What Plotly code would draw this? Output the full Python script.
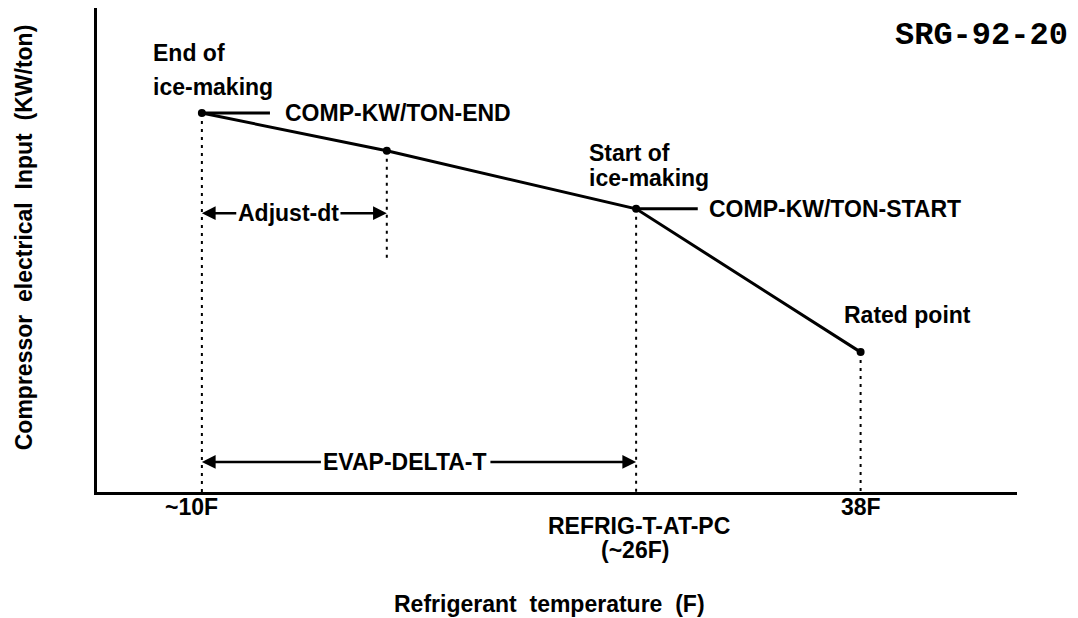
import plotly.graph_objects as go

# Schematic operating curve: compressor kW/ton vs refrigerant temperature.
# Axes are in schematic units (0-100 along each axis).
point_names = ["End of ice-making", "Adjust-dt", "Start of ice-making", "Rated point"]
point_x = [11.4, 31.5, 58.6, 83.0]
point_y = [78.3, 70.5, 58.5, 28.9]

# bottom ends of the dotted drop lines for each point
drop_bottom = [0.0, 47.5, 0.0, 0.0]

# temperature labels under the axis
temp_labels = ["~10F", "REFRIG-T-AT-PC", "(~26F)", "38F"]
temp_label_x = [10.3, 58.9, 58.5, 83.0]
temp_label_y = [-3.1, -7.0, -12.0, -3.1]

X_RANGE = [0, 100]
Y_RANGE = [0, 100]

FONT = "Liberation Sans"
SIZE = 23

fig = go.Figure()

# dotted drop lines
for x, y, yb in zip(point_x, point_y, drop_bottom):
    fig.add_trace(go.Scatter(
        x=[x, x], y=[y, yb], mode="lines",
        line=dict(color="black", width=2, dash="3px,5px"),
        hoverinfo="skip", showlegend=False))

# leader lines to the COMP-KW/TON labels
fig.add_trace(go.Scatter(x=[point_x[0], 18.8], y=[point_y[0], point_y[0]], mode="lines",
                         line=dict(color="black", width=3), showlegend=False))
fig.add_trace(go.Scatter(x=[point_x[2], 65.3], y=[point_y[2], point_y[2]], mode="lines",
                         line=dict(color="black", width=3), showlegend=False))

# main curve
fig.add_trace(go.Scatter(
    x=point_x, y=point_y, mode="lines+markers", text=point_names,
    line=dict(color="black", width=3),
    marker=dict(color="black", size=8),
    showlegend=False))


def to_paper(v, rng):
    return (v - rng[0]) / (rng[1] - rng[0])


def label(text, x, y, xanchor="left", size=SIZE, family=FONT, angle=0):
    # labels are placed in axis units; converted to paper fractions so
    # that those lying outside the plotting area are still shown
    fig.add_annotation(x=to_paper(x, X_RANGE), y=to_paper(y, Y_RANGE),
                       xref="paper", yref="paper", text=f"<b>{text}</b>",
                       showarrow=False, xanchor=xanchor, yanchor="middle",
                       textangle=angle,
                       font=dict(family=family, size=size, color="black"))


def arrow(x_from, x_to, y):
    fig.add_annotation(x=x_to, y=y, ax=x_from, ay=y, xref="x", yref="y",
                       axref="x", ayref="y", text="", showarrow=True,
                       arrowhead=2, arrowsize=1.1, arrowwidth=2.5,
                       arrowcolor="black")


label("End of", 5.9, 90.7)
label("ice-making", 5.9, 83.7)
label("COMP-KW/TON-END", 20.2, point_y[0])
label("Start of", 53.3, 70.0)
label("ice-making", 53.3, 64.9)
label("COMP-KW/TON-START", 66.3, point_y[2])
label("Rated point", 81.0, 36.6)
label("SRG-92-20", 86.5, 94.4, family="Liberation Mono", size=32)

# Adjust-dt span
label("Adjust-dt", 20.8, 57.6, xanchor="center")
arrow(15.3, point_x[0], 57.6)
arrow(26.3, point_x[1], 57.6)

# EVAP-DELTA-T span
label("EVAP-DELTA-T", 33.5, 6.2, xanchor="center")
arrow(24.5, point_x[0], 6.2)
arrow(42.6, point_x[2], 6.2)

for t, x, y in zip(temp_labels, temp_label_x, temp_label_y):
    label(t, x, y, xanchor="center")

label("Refrigerant  temperature  (F)", 49.2, -23.1, xanchor="center")
label("Compressor  electrical  Input  (KW/ton)", -7.9, 52.7, xanchor="center", angle=-90)

fig.update_xaxes(range=X_RANGE, showgrid=False, zeroline=False, showticklabels=False,
                 ticks="", showline=True, linecolor="black", linewidth=3)
fig.update_yaxes(range=Y_RANGE, showgrid=False, zeroline=False, showticklabels=False,
                 ticks="", showline=True, linecolor="black", linewidth=3)

fig.update_layout(
    width=1078, height=618,
    margin=dict(l=97, r=61, t=8, b=126),
    paper_bgcolor="white", plot_bgcolor="white",
    showlegend=False,
)

fig.write_html("out.html")
